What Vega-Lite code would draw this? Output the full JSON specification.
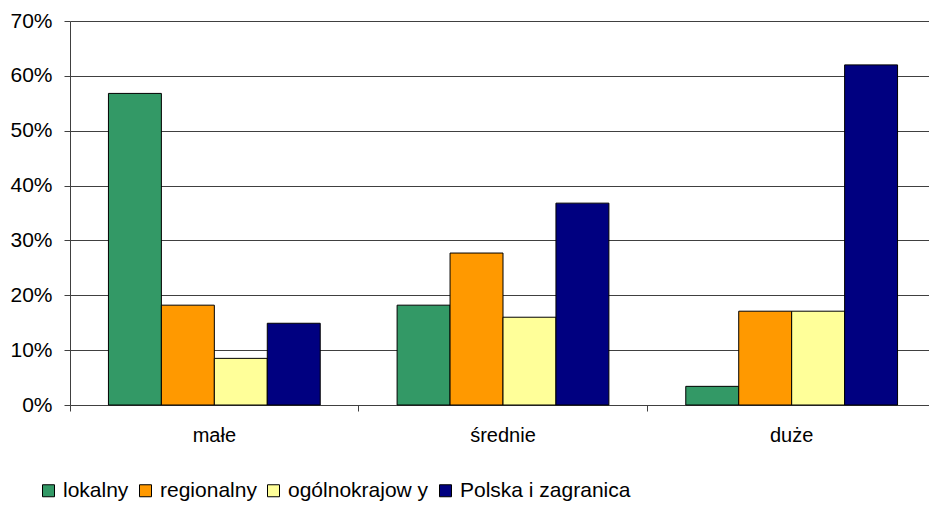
{
  "$schema": "https://vega.github.io/schema/vega-lite/v6.json",
  "autosize": "none",
  "width": 866,
  "height": 384,
  "padding": {"left": 70, "top": 21, "right": 0, "bottom": 100},
  "background": "white",
  "config": {
    "font": "Liberation Sans",
    "view": {"stroke": null}
  },
  "data": {
    "values": [
      {"size": "małe", "zasieg": "lokalny", "value": 56.8},
      {"size": "małe", "zasieg": "regionalny", "value": 18.2},
      {"size": "małe", "zasieg": "ogólnokrajow y", "value": 8.5},
      {"size": "małe", "zasieg": "Polska i zagranica", "value": 14.9},
      {"size": "średnie", "zasieg": "lokalny", "value": 18.2},
      {"size": "średnie", "zasieg": "regionalny", "value": 27.7},
      {"size": "średnie", "zasieg": "ogólnokrajow y", "value": 16.0},
      {"size": "średnie", "zasieg": "Polska i zagranica", "value": 36.8},
      {"size": "duże", "zasieg": "lokalny", "value": 3.4},
      {"size": "duże", "zasieg": "regionalny", "value": 17.1},
      {"size": "duże", "zasieg": "ogólnokrajow y", "value": 17.1},
      {"size": "duże", "zasieg": "Polska i zagranica", "value": 62.0}
    ]
  },
  "mark": {"type": "bar", "stroke": "black", "strokeWidth": 1},
  "encoding": {
    "x": {
      "field": "size",
      "type": "nominal",
      "sort": ["małe", "średnie", "duże"],
      "scale": {"paddingInner": 0, "paddingOuter": 0},
      "axis": {
        "title": null,
        "labelAngle": 0,
        "labelFontSize": 20,
        "labelColor": "black",
        "labelPadding": 14,
        "bandPosition": 0,
        "labelOffset": 0,
        "tickSize": 6,
        "tickColor": "#404040",
        "domainColor": "#404040",
        "grid": false
      }
    },
    "xOffset": {
      "field": "zasieg",
      "type": "nominal",
      "sort": ["lokalny", "regionalny", "ogólnokrajow y", "Polska i zagranica"],
      "scale": {"paddingInner": 0, "paddingOuter": 0.726}
    },
    "y": {
      "field": "value",
      "type": "quantitative",
      "scale": {"domain": [0, 70], "nice": false},
      "axis": {
        "title": null,
        "values": [0, 10, 20, 30, 40, 50, 60, 70],
        "labelExpr": "datum.value + '%'",
        "labelFontSize": 21,
        "labelColor": "black",
        "labelPadding": 12,
        "tickSize": 6,
        "tickColor": "#404040",
        "domainColor": "#404040",
        "gridColor": "#404040",
        "grid": true
      }
    },
    "color": {
      "field": "zasieg",
      "type": "nominal",
      "sort": ["lokalny", "regionalny", "ogólnokrajow y", "Polska i zagranica"],
      "scale": {
        "domain": ["lokalny", "regionalny", "ogólnokrajow y", "Polska i zagranica"],
        "range": ["#339966", "#FF9900", "#FFFF99", "#000080"]
      },
      "legend": {
        "title": null,
        "orient": "none",
        "direction": "horizontal",
        "legendX": -32,
        "legendY": 459,
        "symbolType": "square",
        "symbolSize": 144,
        "symbolStrokeColor": "black",
        "symbolStrokeWidth": 1,
        "labelFontSize": 21,
        "labelColor": "black",
        "labelLimit": 400,
        "columnPadding": 6,
        "labelOffset": 4
      }
    }
  }
}
